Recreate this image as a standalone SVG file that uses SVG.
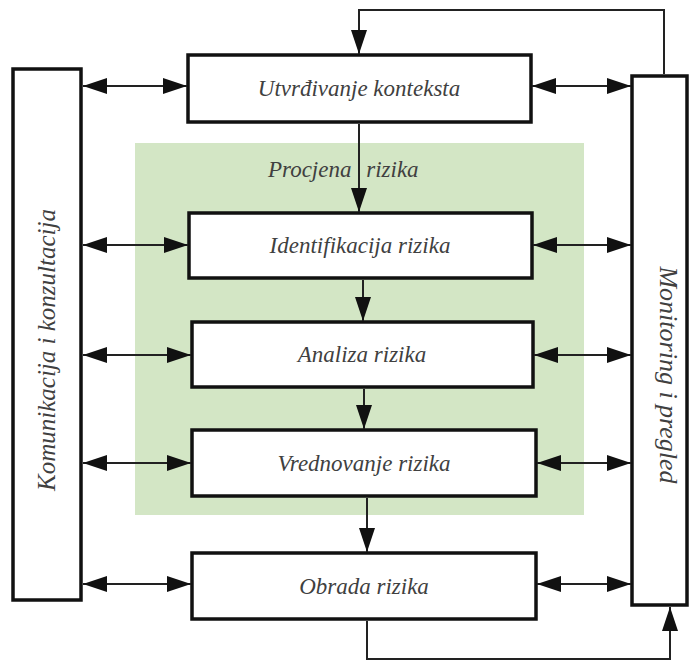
<svg xmlns="http://www.w3.org/2000/svg" width="690" height="662" viewBox="0 0 690 662">
<style>
.box{fill:#fff;stroke:#111;stroke-width:3.5}
.lbl{font-family:"Liberation Serif","Times New Roman",serif;font-style:italic;font-size:23px;fill:#404040;text-anchor:middle}
.vlbl{font-family:"Liberation Serif","Times New Roman",serif;font-style:italic;font-size:25px;fill:#404040;text-anchor:middle}
.ln{fill:none;stroke:#222;stroke-width:2}
.arr{marker-end:url(#ah)}
.dbl{marker-start:url(#ah);marker-end:url(#ah)}
</style>
<defs>
<marker id="ah" markerUnits="userSpaceOnUse" markerWidth="24" markerHeight="16" viewBox="0 0 24 16" refX="24" refY="8" orient="auto-start-reverse">
<path d="M0,0 L24,8 L0,16 z" fill="#111"/>
</marker>
</defs>
<rect x="0" y="0" width="690" height="662" fill="#fff"/>
<g id="procjena">
<rect x="135" y="143" width="449" height="372" fill="#d3e6c5"/>
<text class="lbl" x="268" y="177" style="text-anchor:start" word-spacing="9">Procjena rizika</text>
</g>
<g id="komunikacija">
<rect class="box" x="13" y="69" width="68" height="531"/>
<text class="vlbl" transform="translate(55,350) rotate(-90)">Komunikacija i konzultacija</text>
</g>
<g id="monitoring">
<rect class="box" x="632" y="76" width="55" height="529"/>
<text class="vlbl" transform="translate(660,375) rotate(90)" style="font-size:26px">Monitoring i pregled</text>
</g>
<g id="kontekst">
<rect class="box" x="188" y="55" width="343" height="67"/>
<text class="lbl" x="359" y="96">Utvrđivanje konteksta</text>
</g>
<g id="identifikacija">
<rect class="box" x="189" y="213" width="343" height="65"/>
<text class="lbl" x="360" y="253">Identifikacija rizika</text>
</g>
<g id="analiza">
<rect class="box" x="192" y="322" width="341" height="65"/>
<text class="lbl" x="362" y="362">Analiza rizika</text>
</g>
<g id="vrednovanje">
<rect class="box" x="192" y="430" width="344" height="66"/>
<text class="lbl" x="364" y="471">Vrednovanje rizika</text>
</g>
<g id="obrada">
<rect class="box" x="192" y="553" width="344" height="66"/>
<text class="lbl" x="364" y="594">Obrada rizika</text>
</g>
<g id="connectors">
<line class="ln arr" x1="359" y1="124" x2="359" y2="212"/>
<line class="ln arr" x1="363" y1="280" x2="363" y2="321"/>
<line class="ln arr" x1="364" y1="389" x2="364" y2="429"/>
<line class="ln arr" x1="367" y1="498" x2="367" y2="552"/>
<polyline class="ln arr" points="664,74 664,10 359,10 359,54"/>
<polyline class="ln arr" points="367,621 367,659 670,659 670,607"/>
<line class="ln dbl" x1="83" y1="86" x2="187" y2="86"/>
<line class="ln dbl" x1="83" y1="245" x2="188" y2="245"/>
<line class="ln dbl" x1="83" y1="355" x2="191" y2="355"/>
<line class="ln dbl" x1="83" y1="463" x2="191" y2="463"/>
<line class="ln dbl" x1="83" y1="584" x2="191" y2="584"/>
<line class="ln dbl" x1="532" y1="86" x2="631" y2="86"/>
<line class="ln dbl" x1="533" y1="245" x2="631" y2="245"/>
<line class="ln dbl" x1="534" y1="355" x2="631" y2="355"/>
<line class="ln dbl" x1="537" y1="463" x2="631" y2="463"/>
<line class="ln dbl" x1="537" y1="584" x2="631" y2="584"/>
</g>
</svg>
